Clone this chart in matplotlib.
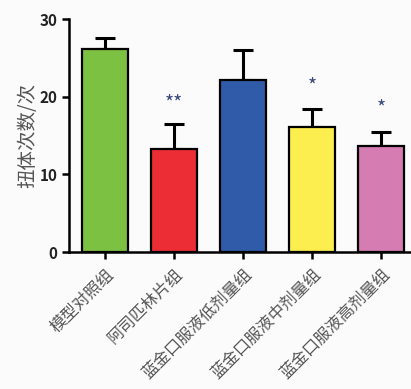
import matplotlib.pyplot as plt

plt.rcParams['font.family'] = ['Noto Sans CJK SC', 'DejaVu Sans']

groups = ['模型对照组', '阿司匹林片组', '蓝金口服液低剂量组', '蓝金口服液中剂量组', '蓝金口服液高剂量组']
means = [26.2, 13.3, 22.1, 16.1, 13.7]
errs = [1.4, 3.2, 3.9, 2.3, 1.7]
marks = ['', '**', '', '*', '*']
mark_y = [0, 19.0, 0, 21.3, 18.4]
colors = ['#7dc142', '#ec2d35', '#2f5ba8', '#fbee4e', '#d57cb3']

fig = plt.figure(figsize=(4.11, 3.89), dpi=100, facecolor='#fbfbfb')
ax = fig.add_axes([0.168, 0.352, 0.832, 0.599])
ax.set_facecolor('#fbfbfb')

x = range(len(groups))
ax.bar(x, means, width=0.66, color=colors, edgecolor='black', linewidth=1.6, zorder=3)
ax.errorbar(x, means, yerr=[[0] * len(errs), errs], fmt='none', ecolor='black',
            elinewidth=2.2, capsize=7, capthick=2.2, zorder=2)

# significance stars above the error bars
for xi, m, y in zip(x, marks, mark_y):
    if m:
        ax.text(xi, y, m, ha='center', va='center', fontsize=14, color='#3a4a7a')

ax.set_xlim(-0.52, 4.43)
ax.set_ylim(0, 30)
ax.set_yticks([0, 10, 20, 30])
ax.set_yticklabels(['0', '10', '20', '30'], fontsize=11, fontweight='bold', color='#222222')
ax.set_xticks(list(x))
ax.set_xticklabels(groups, rotation=45, ha='right', rotation_mode='anchor',
                   fontsize=11.8, color='#555555')
ax.tick_params(axis='both', width=1.8, length=5, direction='out')
ax.tick_params(axis='x', pad=5)

for s in ['top', 'right']:
    ax.spines[s].set_visible(False)
for s in ['left', 'bottom']:
    ax.spines[s].set_linewidth(1.8)

ax.set_ylabel('扭体次数/次', fontsize=14, color='#555555', labelpad=1)

fig.savefig('out.png', dpi=100, facecolor=fig.get_facecolor())
